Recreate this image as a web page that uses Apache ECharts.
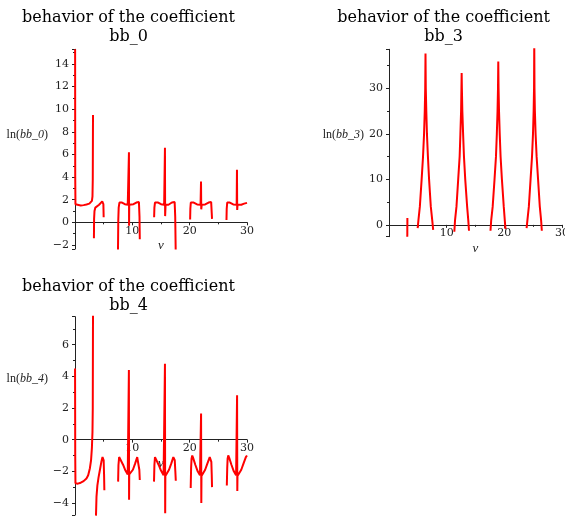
<!DOCTYPE html>
<html>
<head>
<meta charset="utf-8">
<script src="https://cdn.jsdelivr.net/npm/echarts@6/dist/echarts.min.js"></script>
<style>
  html, body { margin: 0; padding: 0; background: #fff; }
  #main { width: 565px; height: 516px; }
</style>
</head>
<body>
<div id="main"></div>
<script>
// ln(bb_0) — one array per continuous branch, [nu, value]
const bb0Segments = [
  [[0.02,15.3],[0.04,4],[0.08,1.6],[0.3,1.45],[1,1.48],[1.5,1.52],[2,1.58],[2.5,1.65],[2.8,1.75],[2.95,1.9],[3.05,2.3],[3.1,3.8],[3.14,9.5]],
  [[3.3,-1.4],[3.33,0.3],[3.4,1.0],[3.55,1.3],[3.8,1.45],[4.2,1.55],[4.5,1.65],[4.75,1.85],[4.88,1.95],[4.95,1.6],[5.0,0.45]],
  [[7.5,-2.4],[7.55,0.2],[7.62,1.3],[7.75,1.75],[7.9,1.88],[8.2,1.75],[8.7,1.6],[9.2,1.55],[9.38,1.6],[9.41,6.2],[9.43,-0.3],[9.46,1.55],[9.7,1.55],[10.2,1.6],[10.7,1.75],[11.0,1.9],[11.15,1.8],[11.25,0.5],[11.3,-1.5]],
  [[13.8,0.45],[13.85,1.3],[13.95,1.75],[14.15,1.9],[14.5,1.75],[15.0,1.6],[15.55,1.55],[15.69,6.6],[15.72,0.55],[15.8,1.55],[16.3,1.55],[16.9,1.75],[17.2,1.9],[17.38,1.8],[17.48,0.5],[17.56,-2.4]],
  [[20.08,0.25],[20.12,1.2],[20.2,1.75],[20.35,1.9],[20.7,1.75],[21.3,1.58],[21.9,1.55],[21.98,3.6],[22.02,1.15],[22.1,1.55],[22.7,1.58],[23.3,1.75],[23.6,1.9],[23.75,1.8],[23.85,0.8],[23.9,0.3]],
  [[26.42,0.2],[26.46,1.2],[26.55,1.75],[26.7,1.9],[27.0,1.75],[27.6,1.58],[28.2,1.55],[28.25,4.65],[28.29,1.1],[28.35,1.55],[29.0,1.55],[29.5,1.65],[30,1.72]]
];

// ln(bb_3)
const bb3Segments = [
  [[3.17,-2.6],[3.19,1.5]],
  [[4.97,-0.7],[5.1,1],[5.35,4],[5.66,10],[5.9,15],[6.08,20],[6.2,25],[6.28,30],[6.33,37.7],[6.38,30],[6.47,25],[6.58,20],[6.75,15],[6.95,10],[7.25,4],[7.5,1],[7.66,-1.1]],
  [[11.33,-1.5],[11.45,1],[11.7,4],[12.0,10],[12.25,15],[12.38,20],[12.5,25],[12.56,30],[12.6,33.4],[12.64,30],[12.72,25],[12.85,20],[13.0,15],[13.22,10],[13.55,4],[13.75,1],[13.87,-1.3]],
  [[17.6,-1.3],[17.72,1],[17.98,4],[18.3,10],[18.55,15],[18.7,20],[18.82,25],[18.9,30],[18.95,35.9],[19.0,30],[19.08,25],[19.2,20],[19.35,15],[19.58,10],[19.9,4],[20.08,1],[20.2,-0.9]],
  [[23.86,-0.7],[24.0,1],[24.25,4],[24.55,10],[24.8,15],[24.97,20],[25.08,25],[25.15,30],[25.19,40],[25.23,30],[25.3,25],[25.42,20],[25.6,15],[25.85,10],[26.15,4],[26.38,1],[26.5,-1.3]]
];

// ln(bb_4)
const bb4Segments = [
  [[0.01,4.5],[0.04,-1],[0.08,-2.75],[0.5,-2.78],[1,-2.72],[1.5,-2.62],[2,-2.45],[2.3,-2.25],[2.6,-1.8],[2.8,-1.3],[2.95,-0.5],[3.05,0.5],[3.1,2],[3.14,8]],
  [[3.66,-4.8],[3.75,-3.6],[3.9,-2.9],[4.1,-2.4],[4.35,-1.9],[4.6,-1.4],[4.8,-1.1],[4.92,-1.0],[5.0,-1.3],[5.07,-2.2],[5.12,-3.2]],
  [[7.52,-2.65],[7.58,-1.6],[7.7,-1.1],[7.85,-1.0],[8.0,-1.15],[8.4,-1.6],[8.8,-1.95],[9.2,-2.2],[9.38,-2.15],[9.4,4.4],[9.43,-3.8],[9.46,-2.2],[9.7,-2.15],[10.1,-1.9],[10.5,-1.5],[10.85,-1.1],[11.0,-1.0],[11.12,-1.2],[11.22,-1.9],[11.3,-2.55]],
  [[13.78,-2.65],[13.85,-1.6],[13.95,-1.1],[14.07,-1.0],[14.2,-1.15],[14.6,-1.6],[15.0,-1.95],[15.45,-2.25],[15.66,-2.3],[15.69,4.8],[15.73,-4.65],[15.76,-2.3],[16.0,-2.2],[16.4,-1.9],[16.8,-1.5],[17.15,-1.1],[17.27,-1.0],[17.4,-1.3],[17.5,-2.0],[17.58,-2.6]],
  [[20.18,-3.05],[20.25,-1.8],[20.33,-1.2],[20.45,-1.0],[20.6,-1.15],[21.0,-1.6],[21.4,-2.0],[21.8,-2.25],[21.96,-2.3],[21.99,1.65],[22.03,-4.0],[22.06,-2.3],[22.3,-2.2],[22.7,-1.9],[23.1,-1.5],[23.5,-1.1],[23.66,-1.0],[23.78,-1.4],[23.85,-2.2],[23.9,-3.0]],
  [[26.48,-2.9],[26.55,-1.8],[26.62,-1.2],[26.73,-1.0],[26.9,-1.15],[27.3,-1.6],[27.7,-2.0],[28.1,-2.25],[28.24,-2.3],[28.27,2.8],[28.31,-3.25],[28.34,-2.3],[28.6,-2.2],[29.0,-1.9],[29.4,-1.5],[29.8,-1.1],[30,-1.0]]
];

const panelNames = ['bb_0', 'bb_3', 'bb_4'];
const yRanges = [[-2.36, 15.3], [-2.6, 38.6], [-4.76, 7.77]];
const ySplits = [9, 4, 6];

const serif = 'DejaVu Serif';
const times = 'Liberation Serif';
const fmtNum = function (v) {
  if (Math.abs(v - Math.round(v)) > 1e-6) return '';
  return v < 0 ? '\u2212' + Math.abs(v) : String(v);
};

// layout per panel
const grids = [
  {left: 75, top: 49.3, width: 172, height: 199.7, outerBoundsMode: 'none'},
  {left: 389, top: 49.3, width: 173, height: 187.4, outerBoundsMode: 'none'},
  {left: 75, top: 316.7, width: 172, height: 198.3, outerBoundsMode: 'none'}
];
const titlePos = [{x: 128.5, y: 8.5}, {x: 443.6, y: 8.5}, {x: 128.5, y: 277}];
const nameShift = [28, 16, 75];
const nameGaps = [22, 21, 22];

var chart = echarts.init(document.getElementById('main'));

const allSegments = [bb0Segments, bb3Segments, bb4Segments];
const series = [];
allSegments.forEach(function (segs, p) {
  segs.forEach(function (seg) {
    series.push({
      type: 'line',
      xAxisIndex: p,
      yAxisIndex: p,
      data: seg,
      showSymbol: false,
      lineStyle: {color: '#ff0000', width: 2},
      silent: true
    });
  });
});

const option = {
  animation: false,
  backgroundColor: '#fff',
  title: panelNames.map(function (n, i) {
    return {
      text: 'behavior of the coefficient\n' + n,
      left: titlePos[i].x,
      top: titlePos[i].y,
      textAlign: 'center',
      padding: 0,
      textStyle: {fontFamily: serif, fontSize: 16, fontWeight: 'normal', color: '#000', lineHeight: 19}
    };
  }),
  grid: grids,
  xAxis: grids.map(function (g, i) {
    // the nu axis crosses at ln = 0, pushed up from the grid bottom
    const zeroOffset = -(0 - yRanges[i][0]) / (yRanges[i][1] - yRanges[i][0]) * g.height;
    return {
      type: 'value',
      gridIndex: i,
      position: 'bottom',
      offset: zeroOffset,
      min: 0,
      max: 30,
      interval: 10,
      name: 'ν',
      nameLocation: 'middle',
      nameGap: 17,
      nameTextStyle: {fontFamily: times, fontSize: 13, fontStyle: 'italic', color: '#222'},
      axisLine: {onZero: false, lineStyle: {color: '#222', width: 1}},
      axisTick: {length: 3, lineStyle: {color: '#222'}},
      minorTick: {show: true, splitNumber: 2, length: 2, lineStyle: {color: '#222'}},
      splitLine: {show: false},
      axisLabel: {margin: 3, fontFamily: serif, fontSize: 11, color: '#222',
        formatter: function (v) { return v === 0 ? '' : fmtNum(v); }}
    };
  }),
  yAxis: grids.map(function (g, i) {
    return {
      type: 'value',
      gridIndex: i,
      min: yRanges[i][0],
      max: yRanges[i][1],
      splitNumber: ySplits[i],
      name: '{a|ln(}{b|' + panelNames[i] + '}{a|)}',
      nameLocation: 'middle',
      nameRotate: 0,
      nameGap: nameGaps[i],
      nameTextStyle: {
        padding: [0, 0, nameShift[i], 0],
        rich: {
          a: {fontFamily: times, fontSize: 12, color: '#222'},
          b: {fontFamily: times, fontSize: 12, fontStyle: 'italic', color: '#222'}
        }
      },
      axisLine: {show: true, onZero: false, lineStyle: {color: '#222', width: 1}},
      axisTick: {show: true, length: 3, lineStyle: {color: '#222'}},
      minorTick: {show: true, splitNumber: 2, length: 2, lineStyle: {color: '#222'}},
      splitLine: {show: false},
      axisLabel: {margin: 6, fontFamily: serif, fontSize: 11, color: '#222', formatter: fmtNum}
    };
  }),
  series: series
};

chart.setOption(option);
</script>
</body>
</html>
